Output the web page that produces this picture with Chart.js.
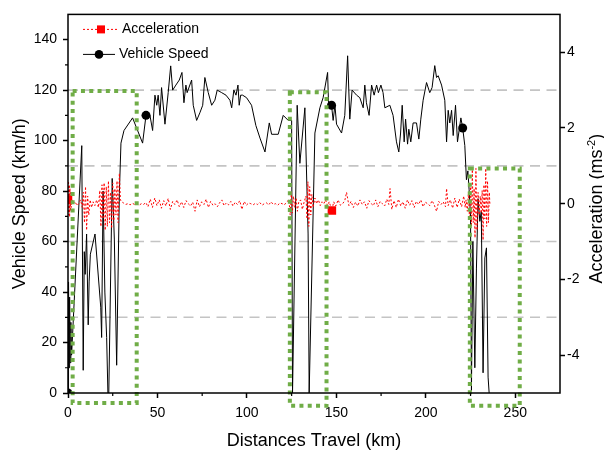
<!DOCTYPE html>
<html>
<head>
<meta charset="utf-8">
<title>Vehicle Speed / Acceleration</title>
<script src="https://cdn.jsdelivr.net/npm/chart.js@4.4.1/dist/chart.umd.min.js"></script>
<style>
  html, body { margin: 0; padding: 0; background: #fff; }
  #wrap { width: 604px; height: 450px; }
</style>
</head>
<body>
<div id="wrap"><canvas id="speedChart"></canvas></div>
<script>
// Velocidade do veículo (km/h) por distância percorrida (km)
const distSpeed = [
  0, 0.3, 0.6, 0.9, 1.2, 1.6, 2.0, 7.7, 8.5, 9.1,
  9.6, 10.4, 11.3, 11.8, 12.5, 15.1, 18.3, 18.8, 19.6, 20.6,
  21.6, 22.3, 22.8, 24.7, 25.9, 27.2, 28.7, 29.6, 31.3, 36.1,
  41.7, 43.6, 45.8, 47.3, 48.6, 49.6, 50.4, 51.4, 52.3, 54.2,
  56.0, 57.4, 58.5, 60.3, 62.2, 63.7, 64.8, 65.9, 66.6, 69.1,
  70.0, 71.9, 73.7, 75.3, 76.5, 78.4, 80.3, 82.1, 83.4, 85.9,
  88.3, 90.5, 91.5, 92.7, 93.9, 95.0, 95.7, 96.5, 97.6, 99.8,
  102.6, 105.0, 107.3, 110.1, 112.5, 113.8, 117.5, 120.3, 123.1, 125.0,
  125.5, 128.1, 129.6, 132.4, 134.2, 134.8, 138.0, 140.8, 142.6, 145.1,
  145.6, 147.3, 148.2, 149.2, 150.1, 152.9, 154.7, 156.3, 157.5, 158.8,
  161.3, 163.1, 165.0, 165.9, 166.8, 168.3, 169.7, 171.1, 172.5, 173.5,
  174.9, 176.1, 177.1, 179.9, 181.7, 183.6, 184.9, 185.9, 186.8, 187.9,
  188.7, 189.8, 190.5, 191.6, 192.9, 194.8, 196.1, 197.2, 198.5, 200.4,
  202.2, 203.5, 205.0, 206.0, 206.9, 208.8, 210.6, 211.6, 212.5, 213.4,
  214.4, 215.3, 216.6, 217.7, 219.6, 220.6, 221.8, 222.7, 223.5, 224.2,
  225.0, 225.5, 226.3, 227.4, 228.3, 229.2, 230.2, 231.0, 232.0, 233.0,
  233.9, 234.8, 235.4
];
const speed = [
  0, 44, 10, 38, 12, 28, 15, 98, 9, 56,
  47, 63, 27, 44, 55, 63, 34, 22, 80, 40,
  22, 0, 0, 85, 61, 11, 79, 99, 104, 109,
  99, 110, 110, 104, 118, 114, 118, 110, 121, 106.5,
  119, 129.6, 120, 122, 124, 127, 115, 122, 119, 124,
  114, 108, 111, 114, 125, 119, 114, 116, 120, 119,
  118, 116, 113, 120, 118, 122, 114, 118, 118, 117,
  114, 106, 101, 95.5, 107, 102.5, 102.5, 110, 108, 108,
  0, 114, 91, 113, 63, 0, 103, 113, 117, 127,
  115, 114, 108, 114, 106.5, 103, 110, 133.6, 108.5, 120,
  118, 117, 113, 122, 115, 110, 122, 118, 122, 119,
  122, 119, 113, 114, 110, 99.5, 95.5, 103, 114, 99.5,
  108.5, 98.6, 104.5, 99.5, 107, 107, 100.6, 108.5, 116, 123,
  119, 121, 129.7, 125, 125.7, 122, 116, 99.5, 112, 107,
  112, 102, 114, 99.5, 109, 105, 98, 84.5, 88, 80.5,
  70, 1, 60, 10, 49.5, 77, 68, 72, 8, 53.5,
  57.5, 6.3, 0
];
const speedMarkerKm = [0, 43.6, 147.3, 220.6];

// Aceleração (m/s²) por distância percorrida (km)
const distAccel = [
  // trecho 1
  0, 0.3, 0.5, 0.7, 0.9, 1.1, 1.3, 1.5, 1.8, 2.2,
  3, 4, 5, 6, 7, 8, 8.6, 9.2, 9.8, 10.4,
  11, 11.6, 12.4, 13.2, 14, 15, 16, 17, 17.8, 18.4,
  19, 19.6, 20.2, 20.8, 21.4, 22, 22.6, 23.2, 23.8, 24.4,
  25, 25.6, 26.2, 26.8, 27.4, 28, 28.7, 29.3, 30,
  // cruzeiro 1
  31, 32.2, 33.5, 34.7, 36, 37.2, 38.5, 39.7, 41, 42.2,
  43.5, 44.7, 46, 47.2, 48.5, 49.7, 51, 52.2, 53.5, 54.7,
  56, 57.2, 58.5, 59.7, 61, 62.2, 63.5, 64.7, 66, 67.2,
  68.5, 69.7, 71, 72.2, 73.5, 74.7, 76, 77.2, 78.5, 79.7,
  81, 82.2, 83.5, 84.7, 86, 87.2, 88.5, 89.7, 91, 92.2,
  93.5, 94.7, 96, 97.2, 98.5, 99.7, 101, 102.2, 103.5, 104.7,
  106, 107.2, 108.5, 109.7, 111, 112.2, 113.5, 114.7, 116, 117.2,
  118.5, 119.7, 121, 122.2,
  // trecho 2
  123.5, 124.2, 124.8, 125.4, 126, 126.8, 127.5, 128.2, 129, 130,
  131, 132, 133, 133.6, 134.1, 134.6, 135.1, 135.7, 136.3, 137,
  138, 139, 140, 141, 142, 143, 144, 145, 146, 147.5,
  // cruzeiro 2
  148.5, 149.7, 151, 152.2, 153.5, 154.7, 155.7, 157, 158.2, 159.5,
  160.7, 162, 163.2, 164.5, 165.7, 167, 168.2, 169.5, 170.7, 172,
  173.2, 174.5, 175.7, 177, 178.2, 179.3, 180, 181, 182.2, 183.5,
  184.7, 186, 187.2, 188.5, 189.7, 191, 192.2, 193.5, 194.7, 196,
  197.2, 198.5, 199.7, 201, 202.2, 203.5, 204.7, 206, 207.2, 208.5,
  209.7, 211, 211.6, 212.5, 213.7, 215, 216.2, 217.5, 218.7, 220,
  221.2, 222,
  // trecho 3
  222.5, 223.2, 223.8, 224.4, 225, 225.5, 226, 226.5, 227, 227.5,
  228, 228.6, 229.2, 229.8, 230.4, 231, 231.5, 232, 232.5, 233,
  233.5, 234, 234.5, 235, 235.5, 235.8
];
const accel = [
  0.1, 0.6, -0.3, 0.5, -0.35, 0.4, -0.2, 0.3, -0.1, 0.1,
  0, 0.05, -0.05, 0, 0.1, -0.1, 0.3, -0.5, 0.45, -0.7,
  0.2, -0.3, 0.1, -0.1, 0.05, -0.05, 0.1, -0.1, 0.35, -0.6,
  0.5, -0.4, 0.55, -0.7, 0.45, -0.6, 0.6, -0.5, 0.3, -0.65,
  0.55, -0.45, 0.4, -0.3, 0.6, -0.5, 0.8, 0.1, 0.05,

  0.02, -0.02, 0, -0.03, 0.01, -0.02, 0, -0.04, 0, -0.02,
  0.03, -0.08, 0.12, -0.1, 0.15, -0.05, 0.1, -0.12, 0.08, -0.06,
  0.14, -0.15, 0.06, -0.02, 0.1, -0.08, 0.05, -0.1, 0.08, 0,
  -0.06, 0.04, -0.2, 0.1, -0.08, 0.05, -0.02, 0.12, -0.1, 0.06,
  -0.04, 0, -0.08, 0.02, 0.1, -0.05, 0.02, -0.03, 0.06, -0.06,
  0.04, -0.02, 0.08, -0.15, 0.06, -0.04, 0.02, 0, -0.03, 0.01,
  -0.02, 0.03, -0.04, 0, 0.02, -0.03, 0.05, -0.02, 0, -0.04,
  0.02, 0, -0.03, 0.05,

  0.1, -0.3, 0.3, -0.25, 0.2, -0.1, 0.15, -0.2, 0.05, 0.1,
  -0.15, 0.05, 0.2, -0.4, 0.58, -0.6, 0.45, -0.3, 0.25, -0.1,
  0.15, 0, 0.1, -0.05, 0.05, 0, 0.1, -0.05, 0.05, -0.18,

  0.05, -0.06, 0.1, -0.04, 0, 0.08, 0.3, -0.05, 0.06, -0.1,
  0.04, -0.06, 0.1, -0.02, 0.05, -0.12, 0.08, 0, -0.05, 0.1,
  -0.08, 0.06, 0, -0.06, 0.12, -0.02, 0.4, -0.15, 0.08, -0.1,
  0.12, -0.06, 0.05, -0.12, 0.1, -0.04, 0.08, -0.1, 0.06, -0.02,
  0.1, -0.08, 0.04, 0, -0.05, 0.08, -0.03, -0.2, 0.06, -0.02,
  0.05, -0.08, 0.4, -0.05, 0.1, -0.12, 0.15, -0.1, 0.12, -0.08,
  0.2, -0.1,

  0.1, -0.2, 0.3, -0.4, 0.5, -0.6, 0.9, -0.5, 0.4, -0.9,
  0.93, -0.7, 0.3, -0.3, 0.2, -0.25, 0.35, -0.96, 0.5, -0.4,
  0.93, -0.6, 0.6, -0.5, 0.3, 0
];
const accelMarkerKm = [0, 147.5];

// Eixos
const distTicks = [0, 50, 100, 150, 200, 250];
const distMinorTicks = [25, 75, 125, 175, 225];
const speedTicks = [0, 20, 40, 60, 80, 100, 120, 140];
const speedMinorTicks = [10, 30, 50, 70, 90, 110, 130];
const accelTicks = [-4, -2, 0, 2, 4];
const gridSpeeds = [30, 60, 90, 120];

// Zonas destacadas (km / km/h)
const boxFrom = [2.6, 124.0, 224.6];
const boxTo = [38.4, 144.5, 252.5];
const boxTop = [119.7, 119.2, 88.9];
const boxBottom = [-4.0, -5.1, -5.1];

const FONT = "'Liberation Sans', Arial, sans-serif";
Chart.defaults.font.family = FONT;
Chart.defaults.color = "#000";

const toPoints = (xs, ys) => xs.map((x, i) => ({ x: x, y: ys[i] }));

// Grade tracejada, caixas verdes, ticks menores, moldura, legenda, título direito
const decorations = {
  id: "decorations",
  beforeDatasetsDraw(chart) {
    const { ctx, chartArea: a, scales } = chart;
    ctx.save();
    ctx.strokeStyle = "#c4c4c4";
    ctx.lineWidth = 1.6;
    ctx.setLineDash([10, 6.5]);
    gridSpeeds.forEach((v) => {
      const y = scales.y.getPixelForValue(v);
      ctx.beginPath();
      ctx.moveTo(a.left, y);
      ctx.lineTo(a.right, y);
      ctx.stroke();
    });
    ctx.restore();
  },
  afterDatasetsDraw(chart) {
    const { ctx, scales } = chart;
    ctx.save();
    ctx.strokeStyle = "#70ad47";
    ctx.lineWidth = 4;
    ctx.setLineDash([4, 4.3]);
    boxFrom.forEach((from, i) => {
      const x0 = scales.x.getPixelForValue(from);
      const x1 = scales.x.getPixelForValue(boxTo[i]);
      const y0 = scales.y.getPixelForValue(boxTop[i]);
      const y1 = scales.y.getPixelForValue(boxBottom[i]);
      ctx.strokeRect(x0, y0, x1 - x0, y1 - y0);
    });
    ctx.restore();
  },
  afterDraw(chart) {
    const { ctx, chartArea: a, scales } = chart;
    ctx.save();

    // moldura
    ctx.strokeStyle = "#000";
    ctx.lineWidth = 1.5;
    ctx.strokeRect(a.left, a.top, a.right - a.left, a.bottom - a.top);

    // ticks menores
    ctx.lineWidth = 1.2;
    ctx.beginPath();
    speedMinorTicks.forEach((v) => {
      const y = scales.y.getPixelForValue(v);
      ctx.moveTo(a.left, y);
      ctx.lineTo(a.left - 3, y);
    });
    distMinorTicks.forEach((v) => {
      const x = scales.x.getPixelForValue(v);
      ctx.moveTo(x, a.bottom);
      ctx.lineTo(x, a.bottom + 3);
    });
    ctx.stroke();

    // legenda
    const lx = a.left + 15;
    const y1 = a.top + 15;
    const y2 = a.top + 40;
    ctx.font = "14px " + FONT;
    ctx.textBaseline = "middle";
    ctx.textAlign = "left";

    ctx.strokeStyle = "#ff0000";
    ctx.lineWidth = 1;
    ctx.setLineDash([2, 2]);
    ctx.beginPath();
    ctx.moveTo(lx, y1);
    ctx.lineTo(lx + 35, y1);
    ctx.stroke();
    ctx.setLineDash([]);
    ctx.fillStyle = "#ff0000";
    ctx.fillRect(lx + 14, y1 - 4, 8, 8);
    ctx.fillStyle = "#000";
    ctx.fillText("Acceleration", lx + 39, y1);

    ctx.strokeStyle = "#000";
    ctx.beginPath();
    ctx.moveTo(lx, y2);
    ctx.lineTo(lx + 32, y2);
    ctx.stroke();
    ctx.beginPath();
    ctx.arc(lx + 16, y2, 4.3, 0, Math.PI * 2);
    ctx.fill();
    ctx.fillText("Vehicle Speed", lx + 36, y2);

    // título do eixo direito com expoente
    const main = "Acceleration (ms";
    const sup = "-2";
    const end = ")";
    const big = "18px " + FONT;
    const small = "11px " + FONT;
    ctx.font = big;
    const wMain = ctx.measureText(main).width;
    const wEnd = ctx.measureText(end).width;
    ctx.font = small;
    const wSup = ctx.measureText(sup).width;
    const total = wMain + wSup + wEnd;
    const cy = (scales.y1.top + scales.y1.bottom) / 2 + 5;
    ctx.translate(a.right + 42, cy);
    ctx.rotate(-Math.PI / 2);
    ctx.textBaseline = "alphabetic";
    ctx.fillStyle = "#000";
    let tx = -total / 2;
    ctx.font = big;
    ctx.fillText(main, tx, 0);
    tx += wMain;
    ctx.font = small;
    ctx.fillText(sup, tx, -7);
    tx += wSup;
    ctx.font = big;
    ctx.fillText(end, tx, 0);

    ctx.restore();
  },
};

const setTicks = (values) => (scale) => {
  scale.ticks = values.map((v) => ({ value: v }));
};

const ctx = document.getElementById("speedChart").getContext("2d");
const speedChart = new Chart(ctx, {
  type: "line",
  data: {
    datasets: [
      {
        label: "Acceleration",
        data: toPoints(distAccel, accel),
        yAxisID: "y1",
        borderColor: "#ff0000",
        borderWidth: 1,
        borderDash: [2, 2],
        pointStyle: "rect",
        pointRadius: (c) => (accelMarkerKm.includes(distAccel[c.dataIndex]) ? 6 : 0),
        pointBackgroundColor: "#ff0000",
        pointBorderWidth: 0,
        tension: 0,
      },
      {
        label: "Vehicle Speed",
        data: toPoints(distSpeed, speed),
        yAxisID: "y",
        borderColor: "#000",
        borderWidth: 1,
        pointStyle: "circle",
        pointRadius: (c) => (speedMarkerKm.includes(distSpeed[c.dataIndex]) ? 4.5 : 0),
        pointBackgroundColor: "#000",
        pointBorderWidth: 0,
        tension: 0,
      },
    ],
  },
  options: {
    responsive: true,
    maintainAspectRatio: false,
    animation: false,
    events: [],
    layout: { padding: { top: 12, left: 0, right: 0, bottom: 0 } },
    plugins: {
      legend: { display: false },
      tooltip: { enabled: false },
    },
    scales: {
      x: {
        type: "linear",
        position: "bottom",
        min: 0,
        max: 275,
        afterBuildTicks: setTicks(distTicks),
        afterFit: (scale) => { scale.height = 57; },
        border: { display: false },
        grid: { drawOnChartArea: false, drawTicks: true, tickLength: 5, tickColor: "#000", tickWidth: 1.5 },
        ticks: { font: { size: 14 }, padding: 7, color: "#000", maxRotation: 0 },
        title: {
          display: true,
          text: "Distances Travel (km)",
          font: { size: 18, lineHeight: 1 },
          padding: { top: 0, bottom: 0 },
          color: "#000",
        },
      },
      y: {
        type: "linear",
        position: "left",
        min: 0,
        max: 150,
        afterBuildTicks: setTicks(speedTicks),
        afterFit: (scale) => { scale.width = 68; },
        border: { display: false },
        grid: { drawOnChartArea: false, drawTicks: true, tickLength: 5, tickColor: "#000", tickWidth: 1.5 },
        ticks: { font: { size: 14 }, padding: 6, color: "#000" },
        title: {
          display: true,
          text: "Vehicle Speed (km/h)",
          font: { size: 18, lineHeight: 1 },
          padding: { top: 11.5, bottom: 0 },
          color: "#000",
        },
      },
      y1: {
        type: "linear",
        position: "right",
        min: -5,
        max: 5,
        afterBuildTicks: setTicks(accelTicks),
        afterFit: (scale) => { scale.width = 44; },
        border: { display: false },
        grid: { drawOnChartArea: false, drawTicks: true, tickLength: 5, tickColor: "#000", tickWidth: 1.5 },
        ticks: { font: { size: 14 }, padding: 2, color: "#000" },
      },
    },
  },
  plugins: [decorations],
});
</script>
</body>
</html>
